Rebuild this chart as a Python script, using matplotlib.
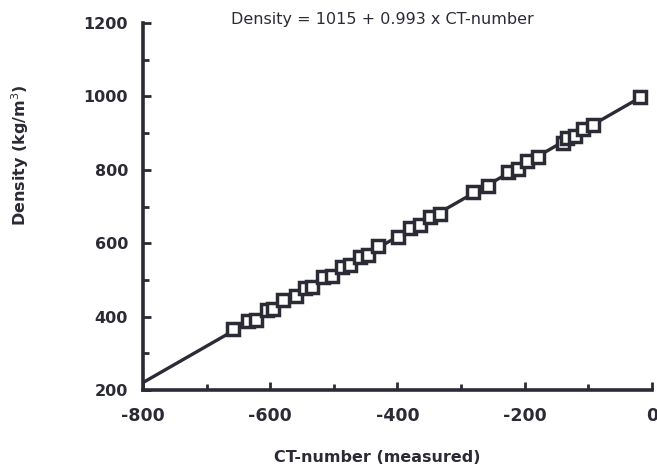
import matplotlib.pyplot as plt
from matplotlib.ticker import MultipleLocator

# CT-number (measured) vs density
ct_number = [-658, -635, -622, -606, -596, -580, -560, -545, -534, -517,
             -503, -487, -475, -459, -447, -430, -399, -380, -364, -349,
             -333, -281, -258, -226, -210, -196, -179, -140, -133, -121,
             -108, -92, -19]
density = [365, 388, 392, 418, 420, 444, 455, 478, 482, 507,
           512, 535, 540, 563, 568, 592, 616, 641, 651, 672,
           681, 739, 757, 795, 803, 824, 834, 872, 887, 893,
           911, 921, 998]

# regression line
intercept = 1015
slope = 0.993
line_x = [-800, -15]

x_ticks = [-800, -600, -400, -200, 0]
x_ticklabels = ['-800', '-600', '-400', '-200', '0']
y_ticks = [200, 400, 600, 800, 1000, 1200]

INK = '#2b2b36'

plt.rcParams['font.family'] = ['DejaVu Sans']

fig = plt.figure(figsize=(6.57, 4.71), dpi=100)
ax = fig.add_axes([0.218, 0.172, 0.774, 0.779])

ax.plot(line_x, [intercept + slope * x for x in line_x], color=INK, lw=2.4,
        solid_capstyle='butt', zorder=2)
ax.plot(ct_number, density, ls='none', marker='s', ms=8, mfc='white',
        mec=INK, mew=2.5, zorder=3)

ax.set_xlim(-800, 0)
ax.set_ylim(200, 1200)
ax.set_xticks(x_ticks)
ax.set_xticklabels(x_ticklabels, fontweight='bold')
ax.set_yticks(y_ticks)
ax.set_yticklabels([str(v) for v in y_ticks], fontweight='bold')
ax.xaxis.set_minor_locator(MultipleLocator(100))
ax.yaxis.set_minor_locator(MultipleLocator(100))

for side in ('top', 'right'):
    ax.spines[side].set_visible(False)
for side in ('left', 'bottom'):
    ax.spines[side].set_linewidth(2.6)
    ax.spines[side].set_color(INK)

ax.tick_params(which='both', direction='in', color=INK, width=2)
ax.tick_params(which='major', length=6)
ax.tick_params(which='minor', length=4)
ax.tick_params(axis='x', pad=12, labelsize=12.5, labelcolor=INK)
ax.tick_params(axis='y', pad=11, labelsize=11.5, labelcolor=INK)

ax.set_xlabel('CT-number (measured)', fontsize=11.5, fontweight='bold',
              color=INK, va='center')
ax.xaxis.set_label_coords(0.46, -0.185)
ax.set_ylabel('Density (kg/m$^3$)', fontsize=11.5, fontweight='bold',
              color=INK, va='center')
ax.yaxis.set_label_coords(-0.242, 0.64)

ax.text(0.47, 1.01, 'Density = 1015 + 0.993 x CT-number',
        transform=ax.transAxes, fontsize=11.5, color=INK, ha='center',
        va='center')

fig.savefig('out.png', dpi=100, facecolor='white')
